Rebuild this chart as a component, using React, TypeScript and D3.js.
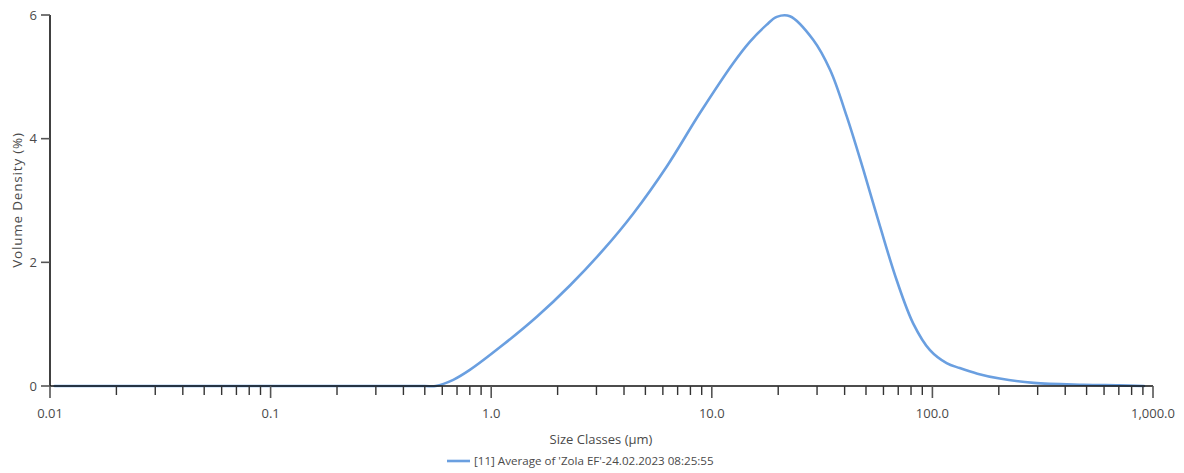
import React from "react";
import * as d3 from "d3";

const sizes = [0.0105, 0.1, 0.3, 0.5, 0.56, 0.673, 0.8, 1.135, 1.61, 2.28, 3.22, 4.41, 6.25, 8.82, 12.5, 14.9, 17.7, 19.7, 22.6, 28.8, 34.4, 40.9, 48.7, 57.9, 68.9, 81.9, 97.5, 116, 133, 160, 202, 288, 485, 700, 910];
const density = [0, 0, 0, 0, 0, 0.1, 0.26, 0.67, 1.12, 1.63, 2.2, 2.79, 3.55, 4.41, 5.22, 5.57, 5.84, 5.97, 5.98, 5.6, 5.11, 4.36, 3.49, 2.58, 1.71, 1.01, 0.58, 0.37, 0.29, 0.2, 0.12, 0.05, 0.02, 0.01, 0];

const xTickValues = [0.01, 0.1, 1, 10, 100, 1000];
const xTickLabels = ["0.01", "0.1", "1.0", "10.0", "100.0", "1,000.0"];
const yTickValues = [0, 2, 4, 6];
const yTickLabels = ["0", "2", "4", "6"];

const xLabel = "Size Classes (\u00b5m)";
const yLabel = "Volume Density (%)";
const legendLabel = "[11] Average of 'Zola EF'-24.02.2023 08:25:55";

const W = 1184;
const H = 473;
const FONT = "'Open Sans', sans-serif";
const LINE = "#6a9fe0";
const TXT = "#4a4a4a";

export default function App() {
  const x = d3.scaleLog().domain([0.01, 1000]).range([50, 1153]);
  const y = d3.scaleLinear().domain([0, 6]).range([386, 15]);

  const minorTicks: number[] = [];
  for (let e = -2; e < 3; e++) {
    for (let m = 2; m <= 9; m++) minorTicks.push(m * Math.pow(10, e));
  }

  const pts = sizes.map((s, i) => [s, density[i]] as [number, number]);
  const line = d3
    .line<[number, number]>()
    .x((d) => x(d[0]))
    .y((d) => Math.min(y(0), y(d[1])))
    .curve(d3.curveCatmullRom.alpha(0.5));

  return (
    <svg width={W} height={H} style={{ position: "absolute", left: 0, top: 0, background: "#fff" }} fontFamily={FONT}>
      {/* curve */}
      <path d={line(pts) || ""} fill="none" stroke={LINE} strokeWidth={2.6} strokeLinejoin="round" strokeLinecap="round" />

      {/* axes */}
      <line x1={50} x2={50} y1={y(6)} y2={y(0)} stroke="#111" strokeWidth={1.6} />
      <line x1={50} x2={x(1000)} y1={y(0)} y2={y(0)} stroke="#111" strokeWidth={1.6} />

      {/* y ticks */}
      {yTickValues.map((v, i) => (
        <g key={"y" + v}>
          <line x1={41} x2={50} y1={y(v)} y2={y(v)} stroke="#555" strokeWidth={1.6} />
          <text x={37} y={y(v)} dy="0.35em" textAnchor="end" fontSize={13} fill={TXT}>
            {yTickLabels[i]}
          </text>
        </g>
      ))}

      {/* x minor ticks */}
      {minorTicks.map((v) => (
        <line key={"m" + v} x1={x(v)} x2={x(v)} y1={y(0)} y2={y(0) + 9} stroke="#333" strokeWidth={1.4} />
      ))}
      {/* x major ticks */}
      {xTickValues.map((v, i) => (
        <g key={"x" + v}>
          <line x1={x(v)} x2={x(v)} y1={y(0)} y2={y(0) + 12} stroke="#555" strokeWidth={1.6} />
          <text x={x(v)} y={418} textAnchor="middle" fontSize={13} fill={TXT}>
            {xTickLabels[i]}
          </text>
        </g>
      ))}

      {/* axis titles */}
      <text x={601} y={444} textAnchor="middle" fontSize={13} fill={TXT}>
        {xLabel}
      </text>
      <text transform="translate(22,200) rotate(-90)" textAnchor="middle" fontSize={13.5} letterSpacing={0.8} fill={TXT}>
        {yLabel}
      </text>

      {/* legend */}
      <line x1={447} x2={470} y1={461} y2={461} stroke={LINE} strokeWidth={2.6} />
      <text x={474} y={465} fontSize={11.6} fill={TXT}>
        {legendLabel}
      </text>
    </svg>
  );
}
